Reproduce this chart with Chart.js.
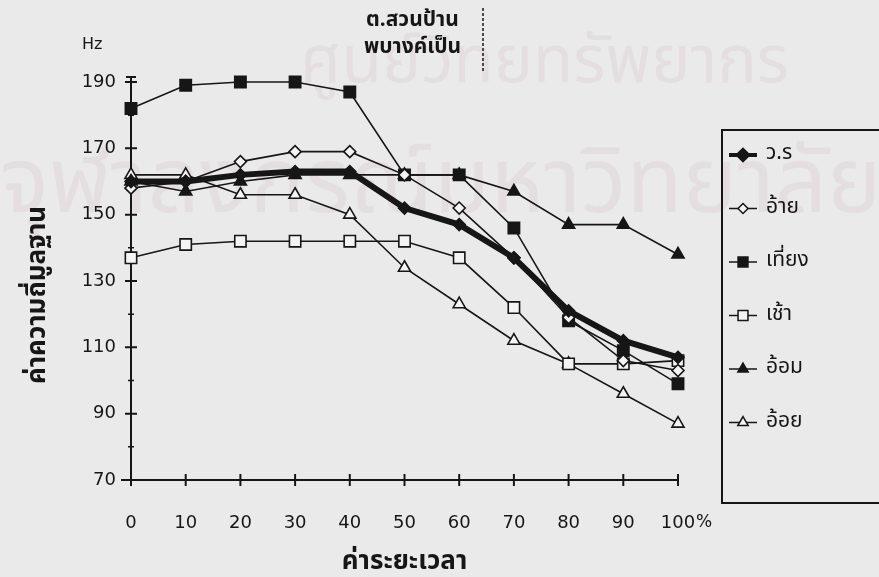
<!DOCTYPE html>
<html><head><meta charset="utf-8">
<script src="https://cdn.jsdelivr.net/npm/chart.js@4.4.1/dist/chart.umd.min.js"></script>
<style>html,body{margin:0;padding:0;background:#ebebeb;} #wrap{width:879px;height:577px;}</style>
</head><body><div id="wrap"><canvas id="c" width="879" height="577"></canvas></div>
<script>
const timePct = [0, 10, 20, 30, 40, 50, 60, 70, 80, 90, 100];
const seriesNames = ['ว.ร', 'อ้าย', 'เที่ยง', 'เช้า', 'อ้อม', 'อ้อย'];
const wr     = [160, 160, 162, 163, 163, 152, 147, 137, 121, 112, 107];
const aai    = [158, 160, 166, 169, 169, 162, 152, 137, 119, 106, 103];
const thiang = [182, 189, 190, 190, 187, 162, 162, 146, 118, 109, 99];
const chao   = [137, 141, 142, 142, 142, 142, 137, 122, 105, 105, 106];
const om     = [160, 157, 160, 162, 162, 162, 162, 157, 147, 147, 138];
const oi     = [162, 162, 156, 156, 150, 134, 123, 112, 105, 96, 87];
const yTicks = [70, 90, 110, 130, 150, 170, 190];
const xTicks = [0, 10, 20, 30, 40, 50, 60, 70, 80, 90, 100];
const yTitle = 'ค่าความถี่มูลฐาน';
const xTitle = 'ค่าระยะเวลา';
const noteLines = ['ต.สวนป้าน', 'พบางค์เป็น'];
const watermark = ['ศูนย์วิทยทรัพยากร', 'จุฬาลงกรณ์มหาวิทยาลัย'];

const INK = '#161616';
const THAI = '"Noto Sans Thai","Noto Sans","DejaVu Sans",sans-serif';
const toPts = arr => timePct.map((x, i) => ({x: x, y: arr[i]}));
const styles = [
  {style: 'rectRot', r: 6, fill: INK, w: 6},
  {style: 'rectRot', r: 6, fill: '#f4f4f4', w: 1.6},
  {style: 'rect', r: 8, fill: INK, w: 1.6},
  {style: 'rect', r: 8, fill: '#f4f4f4', w: 1.6},
  {style: 'triangle', r: 7, fill: INK, w: 1.6},
  {style: 'triangle', r: 7, fill: '#f4f4f4', w: 1.6}
];
const seriesData = [wr, aai, thiang, chao, om, oi];
const datasets = seriesData.map((arr, i) => ({
  label: seriesNames[i],
  data: toPts(arr),
  borderColor: INK,
  backgroundColor: styles[i].fill,
  borderWidth: styles[i].w,
  pointStyle: styles[i].style,
  pointRadius: styles[i].r,
  pointBorderWidth: 1.6,
  pointBorderColor: INK,
  pointBackgroundColor: styles[i].fill,
  tension: 0,
  clip: false
}));

const deco = {
  id: 'deco',
  beforeDraw(chart) {
    const ctx = chart.ctx;
    ctx.save();
    ctx.fillStyle = '#eaeaea';
    ctx.fillRect(0, 0, chart.width, chart.height);
    ctx.fillStyle = 'rgba(214,180,196,0.22)';
    ctx.textBaseline = 'alphabetic';
    ctx.textAlign = 'left';
    ctx.font = '66px ' + THAI;
    ctx.fillText(watermark[0], 300, 82);
    ctx.font = '92px ' + THAI;
    ctx.fillText(watermark[1], 0, 212);
    ctx.restore();
  },
  afterDraw(chart) {
    const ctx = chart.ctx;
    const xs = chart.scales.x, ys = chart.scales.y;
    const ax = xs.getPixelForValue(0), ay = ys.getPixelForValue(70);
    ctx.save();
    ctx.strokeStyle = INK;
    ctx.lineWidth = 2;
    ctx.beginPath();
    yTicks.forEach(v => { const p = ys.getPixelForValue(v); ctx.moveTo(ax - 6, p); ctx.lineTo(ax + 6, p); });
    xTicks.forEach(v => { const p = xs.getPixelForValue(v); ctx.moveTo(p, ay - 6); ctx.lineTo(p, ay + 6); });
    const topY = ys.getPixelForValue(190) - 5;
    ctx.moveTo(ax, ys.getPixelForValue(190)); ctx.lineTo(ax, topY);
    ctx.moveTo(ax - 5, topY); ctx.lineTo(ax + 5, topY);
    ctx.moveTo(ax - 10, ay); ctx.lineTo(ax, ay);
    ctx.stroke();
    ctx.lineWidth = 1.5;
    ctx.beginPath();
    [80, 100, 120, 140, 160, 180].forEach(v => { const p = ys.getPixelForValue(v); ctx.moveTo(ax - 3, p); ctx.lineTo(ax + 3, p); });
    ctx.stroke();

    // y axis title
    ctx.fillStyle = INK;
    ctx.save();
    ctx.translate(40, 295);
    ctx.rotate(-Math.PI / 2);
    ctx.font = 'bold 26px ' + THAI;
    ctx.textAlign = 'center'; ctx.textBaseline = 'middle';
    ctx.fillText(yTitle, 0, 0);
    ctx.restore();

    // unit labels
    ctx.font = '16px "DejaVu Sans"';
    ctx.textAlign = 'left'; ctx.textBaseline = 'middle';
    ctx.fillText('Hz', 82, 45);
    ctx.font = '17px "DejaVu Sans"';
    ctx.fillText('%', xs.getPixelForValue(100) + 18, 523);

    // note
    ctx.font = 'bold 21px ' + THAI;
    ctx.textAlign = 'left';
    ctx.fillText(noteLines[0], 366, 22);
    ctx.fillText(noteLines[1], 364, 49);
    ctx.setLineDash([3, 2]);
    ctx.lineWidth = 1.5;
    ctx.beginPath(); ctx.moveTo(483, 8); ctx.lineTo(483, 72); ctx.stroke();
    ctx.setLineDash([]);

    // legend
    ctx.lineWidth = 2;
    ctx.strokeRect(722, 130, 200, 373);
    chart.data.datasets.forEach((ds, i) => {
      const y = 155 + i * 53.5;
      ctx.strokeStyle = INK;
      ctx.lineWidth = i === 0 ? 4 : 1.5;
      ctx.beginPath(); ctx.moveTo(729, y); ctx.lineTo(757, y); ctx.stroke();
      ctx.fillStyle = ds.pointBackgroundColor;
      Chart.helpers.drawPoint(ctx, {pointStyle: ds.pointStyle, radius: ds.pointRadius - 1, rotation: 0, borderWidth: 1.5}, 743, y);
      ctx.fillStyle = INK;
      ctx.font = '21px ' + THAI;
      ctx.textAlign = 'left'; ctx.textBaseline = 'middle';
      ctx.fillText(ds.label, 766, y);
    });
    ctx.restore();
  }
};

new Chart(document.getElementById('c'), {
  type: 'line',
  data: {datasets: datasets},
  options: {
    responsive: false,
    animation: false,
    devicePixelRatio: 1,
    layout: {padding: {left: 0, top: 82, right: 201, bottom: 0}},
    plugins: {legend: {display: false}, tooltip: {enabled: false}},
    scales: {
      x: {
        type: 'linear', min: 0, max: 100,
        afterBuildTicks: s => { s.ticks = xTicks.map(v => ({value: v})); },
        afterFit: s => { s.height = 97; },
        grid: {display: false, drawTicks: false},
        border: {display: true, color: INK, width: 2},
        ticks: {color: INK, padding: 33, font: {family: 'DejaVu Sans', size: 18}},
        title: {display: true, text: xTitle, color: INK, font: {family: THAI, size: 26, weight: 'bold'}, padding: {top: 0, bottom: -2}}
      },
      y: {
        type: 'linear', min: 70, max: 190,
        afterBuildTicks: s => { s.ticks = yTicks.map(v => ({value: v})); },
        afterFit: s => { s.width = 131; },
        grid: {display: false, drawTicks: false},
        border: {display: true, color: INK, width: 2},
        ticks: {color: INK, padding: 15, font: {family: 'DejaVu Sans', size: 18}},
        title: {display: false}
      }
    }
  },
  plugins: [deco]
});
</script></body></html>
